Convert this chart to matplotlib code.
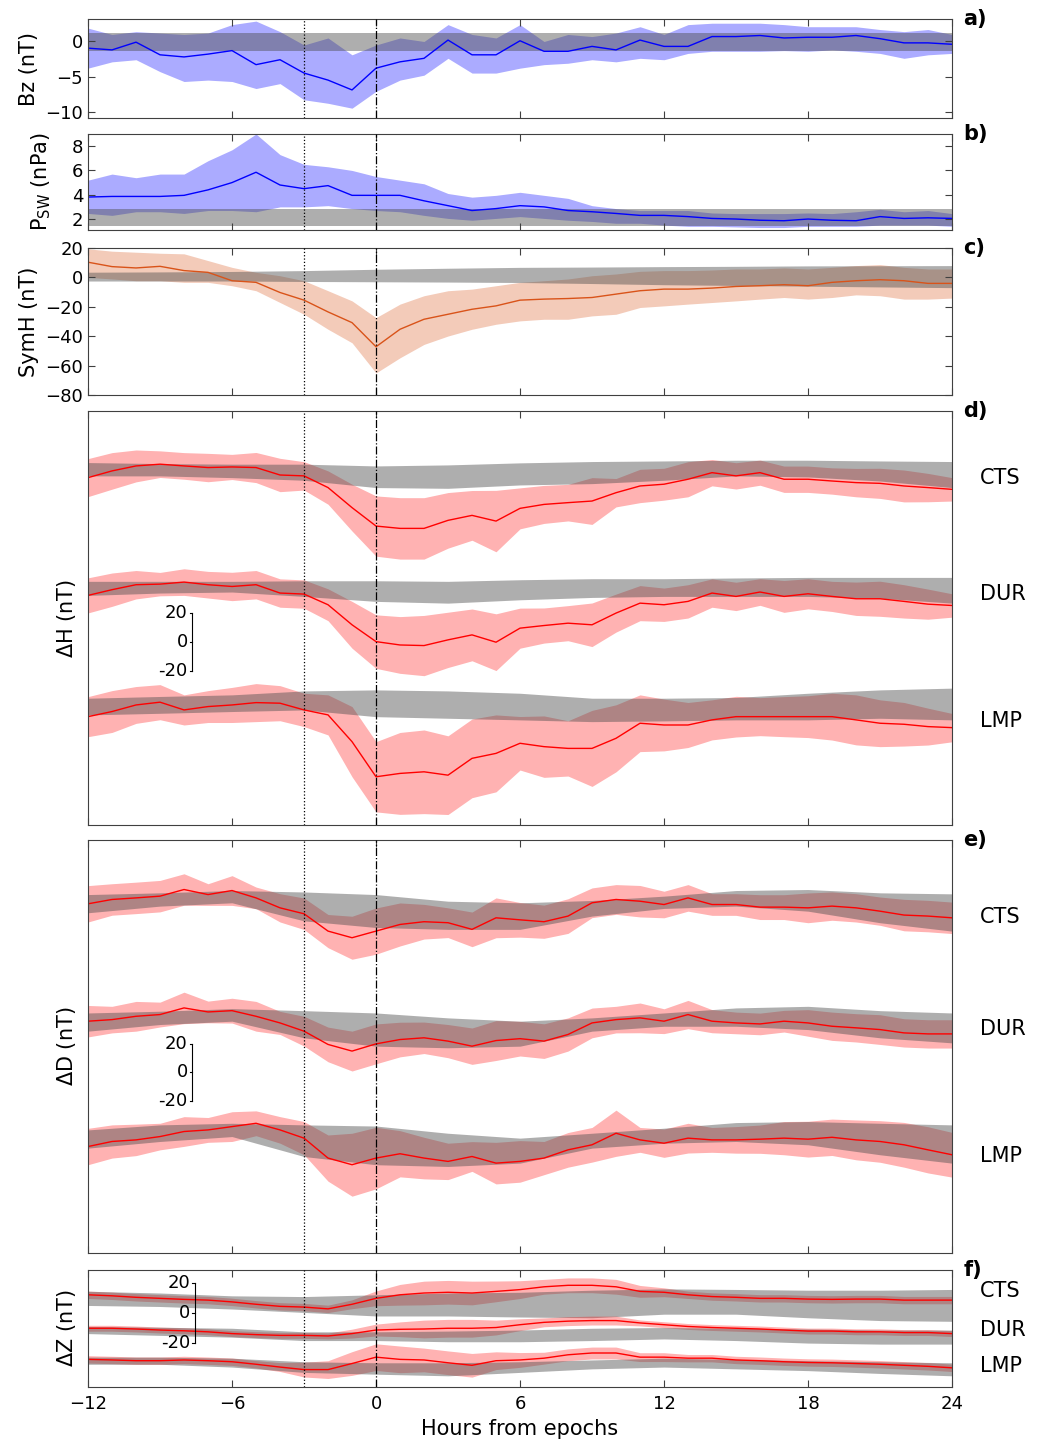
import numpy as np
import matplotlib.pyplot as plt

# time axis (hours from epoch); quiet-time bands are sampled every 3 h
hours = np.arange(-12, 25)
hours_q = np.arange(-12, 25, 3)

# a) IMF Bz (nT)
bz_mean = [-0.95, -1.2, -0.1, -1.9, -2.2, -1.8, -1.3, -3.3, -2.6, -4.5, -5.5, -6.9, -3.8,
           -2.9, -2.4, 0.2, -1.9, -1.9, 0.1, -1.4, -1.4, -0.7, -1.2, 0.2, -0.7, -0.7,
           0.7, 0.7, 0.85, 0.5, 0.6, 0.6, 0.85, 0.4, -0.2, -0.2, -0.4]
bz_hi = [1.9, 1.0, 1.4, 1.2, 1.0, 1.2, 2.4, 2.9, 1.4, -0.5, 0.5, -1.9, -0.5,
         0.5, 0.0, 2.4, 1.0, 0.5, 2.4, 0.0, 1.0, 0.7, 1.2, 2.1, 1.0, 2.4,
         2.6, 2.6, 2.6, 2.4, 2.1, 2.1, 2.1, 1.7, 1.4, 1.7, 1.0]
bz_lo = [-3.8, -2.9, -2.6, -4.3, -5.7, -5.5, -5.7, -6.7, -6.0, -8.3, -8.8, -9.5, -7.1,
         -5.5, -4.8, -2.4, -4.5, -4.5, -3.8, -3.3, -3.1, -2.6, -2.9, -2.4, -2.6, -1.7,
         -1.4, -1.4, -1.4, -1.3, -1.4, -1.2, -1.4, -1.7, -2.4, -1.9, -1.7]
bz_quiet = (-1.4, 1.2)

# b) solar wind dynamic pressure (nPa)
psw_mean = [3.81, 3.86, 3.86, 3.86, 3.95, 4.4, 5.0, 5.85, 4.8, 4.5, 4.75, 3.95, 3.95,
            3.95, 3.5, 3.1, 2.7, 2.86, 3.1, 3.0, 2.7, 2.6, 2.46, 2.3, 2.3, 2.2,
            2.05, 2.0, 1.9, 1.86, 2.0, 1.9, 1.86, 2.2, 2.05, 2.1, 2.05]
psw_hi = [5.2, 5.7, 5.4, 5.7, 5.7, 6.8, 7.7, 9.0, 7.3, 6.5, 6.3, 6.0, 5.5,
          5.2, 4.9, 4.1, 3.8, 3.95, 4.2, 3.95, 3.7, 3.1, 2.86, 2.7, 2.7, 2.7,
          2.5, 2.45, 2.45, 2.45, 2.5, 2.45, 2.6, 2.8, 2.6, 2.7, 2.45]
psw_lo = [2.46, 2.3, 2.6, 2.6, 2.46, 2.7, 2.7, 2.6, 3.0, 3.0, 3.1, 2.86, 2.7,
          2.6, 2.3, 2.05, 1.9, 2.05, 2.2, 2.05, 1.9, 1.8, 1.65, 1.65, 1.5, 1.4,
          1.4, 1.35, 1.3, 1.3, 1.4, 1.4, 1.4, 1.5, 1.5, 1.5, 1.4]
psw_quiet = (1.4, 2.8)

# c) SymH (nT)
symh_mean = [10.3, 7.3, 6.4, 7.5, 4.6, 3.4, -2.3, -3.4, -10.3, -15.5, -23.5, -30.8, -47.2,
             -35.3, -28.5, -25.1, -21.7, -19.4, -15.5, -14.8, -14.4, -13.7, -11.4, -9.1, -8.0, -8.0,
             -7.3, -6.2, -5.7, -5.0, -5.7, -3.4, -2.3, -1.6, -2.3, -4.1, -4.1]
symh_hi = [19.4, 17.8, 17.1, 16.4, 16.0, 11.4, 6.8, 3.4, 1.1, -2.3, -9.1, -16.0, -27.4,
           -18.2, -12.5, -9.1, -8.0, -5.7, -3.4, -2.3, -1.1, 1.1, 2.3, 4.1, 4.6, 4.6,
           5.0, 5.7, 5.7, 6.4, 5.7, 6.8, 8.0, 8.7, 6.8, 5.7, 5.7]
symh_lo = [0.0, -1.1, -2.3, -2.3, -3.4, -3.4, -5.7, -9.1, -17.1, -25.1, -35.3, -44.5, -65.0,
           -54.7, -45.6, -39.9, -35.3, -31.9, -29.6, -28.5, -28.5, -26.2, -25.1, -20.5, -19.4, -18.2,
           -17.1, -16.0, -14.8, -13.7, -14.8, -13.7, -11.9, -12.5, -14.8, -14.8, -14.1]
symh_q_hi = [3.5, 3.7, 4.0, 4.6, 5.5, 6.2, 6.8, 7.0, 7.3, 7.5, 7.8, 7.9, 8.0]
symh_q_lo = [-2.5, -2.5, -2.5, -2.8, -3.0, -3.2, -3.5, -4.2, -5.0, -5.5, -6.0, -6.5, -7.0]

stations = ["CTS", "DUR", "LMP"]

# d) Delta H (nT), relative to each station's baseline
dh_mean = [
    [-5.5, -0.9, 2.5, 3.7, 2.5, 1.4, 1.8, 1.4, -3.7, -4.3, -12.3, -26.0, -38.6,
     -40.2, -40.2, -34.7, -31.3, -35.2, -26.5, -23.8, -22.6, -21.5, -15.8, -11.2, -10.0, -6.6,
     -2.1, -4.3, -2.1, -6.6, -6.6, -7.8, -8.9, -9.4, -11.2, -12.3, -13.5],
    [-5.0, -1.1, 2.3, 2.7, 4.1, 2.3, 1.1, 2.3, -3.4, -4.1, -11.4, -25.1, -36.6,
     -38.9, -39.3, -35.4, -32.0, -37.0, -27.4, -25.6, -24.0, -25.1, -17.1, -10.3, -11.4, -9.1,
     -3.4, -5.7, -2.7, -5.7, -3.9, -5.7, -7.3, -7.3, -9.1, -11.0, -11.9],
    [-6.9, -3.4, 1.1, 3.0, -2.3, 0.0, 1.1, 2.7, 2.3, -2.3, -5.7, -24.0, -48.0,
     -45.7, -44.6, -46.9, -35.4, -32.0, -25.1, -27.4, -28.6, -28.6, -21.7, -11.4, -12.6, -12.6,
     -9.1, -6.9, -6.9, -6.9, -6.9, -6.9, -9.1, -11.4, -12.1, -13.7, -14.4],
]
dh_sd = [
    [13, 12.5, 10.9, 9.1, 9.1, 9.7, 8.6, 10.3, 11.4, 9.7, 11.4, 16, 20.6,
     21, 21, 19, 17, 21, 14, 13, 12.5, 16, 9.7, 11.4, 10.9, 12,
     9, 9, 8.6, 9, 9, 9, 9.7, 10.3, 10.9, 9.7, 8],
    [12, 11.4, 9.7, 8, 9.1, 9.1, 9.7, 9.7, 9.7, 9.7, 10.9, 16, 18.3,
     19.4, 20.6, 18.9, 17.7, 19.4, 13.7, 12, 12, 14.9, 13, 12, 11.4, 11.4,
     9.7, 9.7, 9.1, 10.9, 10.3, 10.3, 11.4, 12, 11.4, 10.3, 8],
    [13.7, 14.3, 12.6, 12, 10.3, 10.9, 12, 13, 12, 11.4, 13.7, 24, 24,
     28, 28.6, 26.9, 26.9, 26.3, 18.3, 21, 18.9, 26, 22.9, 19.4, 17.7, 15.4,
     13.7, 13.9, 13, 13.7, 14.3, 16, 17.1, 16, 14.9, 12.6, 9.7],
]
dh_q_hi = [
    [4.8, 4.1, 3.7, 3.7, 2.5, 3.2, 4.6, 5.5, 5.9, 6.4, 6.4, 5.9, 5.5],
    [4.6, 4.6, 4.6, 5.0, 5.0, 4.6, 5.7, 6.4, 6.4, 6.9, 7.3, 7.3, 7.3],
    [5.7, 6.9, 8.0, 10.7, 11.4, 10.7, 9.1, 5.7, 5.7, 6.2, 9.1, 11.4, 12.6],
]
dh_q_lo = [
    [-4.3, -4.3, -5.5, -7.3, -12.3, -12.8, -10.5, -9.6, -7.3, -4.3, -5.0, -7.8, -12.3],
    [-5.0, -3.4, -2.7, -5.7, -9.1, -10.3, -8.0, -6.4, -5.7, -5.7, -5.7, -6.9, -10.3],
    [-5.7, -4.6, -3.4, -2.3, -6.9, -8.0, -9.1, -10.3, -9.8, -9.1, -9.1, -8.0, -9.1],
]
dh_offset = [118, 37, -44]

# e) Delta D (nT)
dd_mean = [
    [-0.2, 2.8, 3.9, 5.1, 9.7, 6.2, 9.0, 3.9, -3.0, -7.1, -19.1, -23.7, -19.1,
     -14.5, -12.6, -13.3, -17.9, -9.9, -11.3, -12.6, -8.7, 0.5, 2.8, 1.6, -0.7, 3.9,
     -0.7, -0.7, -2.5, -2.5, -3.0, -1.8, -3.0, -5.3, -8.0, -8.7, -9.9],
    [0.5, 1.6, 3.9, 5.1, 9.7, 6.9, 7.8, 3.9, -0.7, -6.4, -15.6, -20.2, -15.2,
     -12.2, -11.0, -13.3, -16.8, -12.9, -11.6, -13.3, -8.7, -0.7, 1.6, 2.8, 0.5, 5.1,
     0.5, -0.7, -1.4, 0.5, -0.7, -3.0, -4.1, -5.3, -7.6, -8.3, -8.3],
    [-5.3, -1.8, -0.7, 1.6, 5.1, 6.2, 8.5, 10.8, 6.2, 0.5, -13.3, -17.9, -13.3,
     -10.3, -13.3, -15.6, -12.2, -16.8, -15.6, -13.3, -7.6, -4.1, 3.9, -0.7, -3.0, 0.5,
     -0.7, -0.7, -0.2, 0.5, -0.2, 1.1, -0.7, -1.8, -4.1, -7.6, -11.0],
]
dd_sd = [
    [12.6, 10.9, 10.9, 10.9, 10.9, 7.5, 10.3, 7.5, 9.8, 10.9, 11.5, 14.9, 16,
     14.9, 12, 10.3, 12, 13.8, 12, 11.5, 12, 10.3, 10.3, 10.9, 9.2, 9.2,
     7.5, 7.5, 8.6, 8.6, 10.3, 9.8, 9.8, 9.8, 10.9, 10.9, 10.9],
    [10.9, 9.2, 10.3, 8.6, 10.9, 7.5, 8.6, 10.3, 8.0, 10.3, 12.0, 13.8, 13.8,
     12.0, 10.9, 11.5, 12.6, 13.8, 12.0, 12.0, 11.5, 10.3, 9.2, 10.3, 8.6, 9.8,
     8.0, 7.5, 7.5, 7.5, 9.2, 9.8, 9.8, 10.3, 9.8, 9.8, 9.8],
    [12.6, 11.5, 10.9, 9.2, 10.3, 8.6, 10.3, 8.6, 9.2, 11.5, 16.0, 21.8, 21.3,
     16.0, 14.4, 12.6, 10.3, 14.4, 14.4, 11.5, 12.0, 12.0, 16.0, 8.6, 9.8, 10.3,
     8.6, 9.2, 9.8, 11.5, 12.4, 12.6, 13.8, 14.4, 15.5, 16.0, 15.5],
]
dd_q_hi = [
    [6.2, 7.4, 9.0, 8.0, 6.2, 1.6, 0.5, 2.1, 5.1, 9.0, 9.7, 7.4, 6.7],
    [6.2, 7.4, 9.2, 7.8, 6.2, 2.8, 0.5, 2.8, 6.2, 9.7, 10.8, 7.8, 6.2],
    [6.2, 9.7, 10.8, 9.7, 8.9, 3.9, 0.5, 3.9, 7.4, 11.3, 12.0, 10.8, 9.7],
]
dd_q_lo = [
    [-6.4, -1.8, 0.5, -12.0, -16.6, -17.9, -17.9, -8.7, -3.4, -1.8, -5.3, -13.3, -19.1],
    [-6.4, -1.8, 0.5, -11.0, -16.8, -17.9, -16.8, -6.4, -3.0, -3.0, -5.3, -11.0, -14.5],
    [-6.4, -1.8, 1.6, -12.2, -17.9, -19.1, -16.8, -6.4, -3.0, -1.8, -4.1, -11.0, -16.8],
]
dd_offset = [117, 35, -46]

# f) Delta Z (nT)
dz_mean = [
    [2.3, 1.6, 0.6, -0.1, -0.8, -1.3, -2.5, -4.1, -5.5, -6.0, -7.2, -4.1, -0.1,
     2.3, 3.5, 4.0, 3.5, 4.6, 5.8, 7.7, 8.7, 8.7, 7.7, 4.6, 4.0, 2.3,
     1.1, 0.6, -0.1, -0.1, -0.6, -0.8, -0.6, -0.6, -1.3, -1.3, -1.3],
    [-0.3, -0.3, -0.8, -1.5, -2.0, -2.7, -3.9, -4.6, -5.1, -5.1, -5.5, -3.9, -1.5,
     -1.0, -0.8, -0.3, -0.3, 0.2, 2.1, 3.7, 4.5, 4.9, 4.9, 3.3, 2.1, 0.9,
     0.2, -0.3, -0.8, -1.5, -2.2, -2.2, -2.7, -2.7, -3.2, -3.2, -3.9],
    [-0.3, -0.7, -1.2, -1.2, -0.7, -1.2, -1.9, -3.6, -5.5, -7.2, -7.2, -3.1, 1.2,
     -0.3, -0.7, -2.6, -4.3, -1.2, -0.7, 0.5, 2.8, 4.0, 4.0, 1.2, 1.2, 0.5,
     0.5, -0.7, -1.2, -1.9, -2.4, -2.6, -3.1, -3.6, -4.3, -5.0, -6.0],
]
dz_sd = [
    [2.5, 2.5, 2.5, 2.5, 2.5, 2.5, 2.5, 2.5, 2.5, 2.5, 2.5, 3, 5,
     7, 8, 8, 8, 7, 6, 5, 5, 5, 5, 4, 3, 2.5,
     2.5, 2.5, 2.5, 2.5, 2.5, 2.5, 2.5, 2.5, 2.5, 2.5, 2.5],
    [2, 2, 2, 2, 2, 2, 2, 2, 2, 2, 2, 3, 4,
     5, 6, 6, 6, 5, 4, 3, 3, 3, 3, 2, 2, 2,
     2, 2, 2, 2, 2, 2, 2, 2, 2, 2, 2],
    [2.5, 2.5, 2.5, 2.5, 2.5, 2.5, 2.5, 2.5, 3, 5, 6, 8, 9,
     9, 8, 8, 8, 6, 5, 4, 4, 4, 4, 3, 3, 2.5,
     2.5, 2.5, 2.5, 2.5, 2.5, 2.5, 2.5, 2.5, 2.5, 2.5, 2.5],
]
dz_q_hi = [
    [4.7, 3.5, 1.6, 1.1, 2.3, 3.5, 4.0, 5.4, 6.3, 5.9, 5.4, 5.4, 5.9],
    [0.9, 0.4, -0.3, -2.7, -2.7, -2.2, -1.5, -0.3, 0.2, -0.3, -0.8, -1.5, -1.5],
    [1.2, 1.2, 0.5, -1.9, -2.6, -2.6, -1.9, -0.7, 0.5, -0.3, -1.2, -1.9, -2.6],
]
dz_q_lo = [
    [-4.9, -5.6, -7.3, -9.6, -12.0, -12.0, -12.7, -13.2, -10.8, -10.8, -13.2, -15.1, -15.6],
    [-3.9, -5.1, -6.3, -8.6, -8.6, -9.4, -9.4, -8.6, -7.5, -8.6, -10.3, -11.0, -11.0],
    [-3.6, -3.6, -5.5, -9.1, -10.3, -11.4, -9.1, -6.7, -5.5, -6.7, -7.9, -9.8, -11.4],
]
dz_offset = [10, -10, -31]

# colours
GREY = "0.3"
GREY_ALPHA = 0.45
FRAME = "0.25"

fig = plt.figure(figsize=(10.48, 14.5), dpi=100)
L, W = 0.084, 0.8244
ax_a = fig.add_axes([L, 0.9186, W, 0.0683])
ax_b = fig.add_axes([L, 0.8414, W, 0.0662])
ax_c = fig.add_axes([L, 0.7276, W, 0.1014])
ax_d = fig.add_axes([L, 0.4310, W, 0.2855])
ax_e = fig.add_axes([L, 0.1359, W, 0.2848])
ax_f = fig.add_axes([L, 0.0434, W, 0.0807])
axes = [ax_a, ax_b, ax_c, ax_d, ax_e, ax_f]


def style(ax, letter):
    ax.set_xlim(-12, 24)
    ax.set_xticks(range(-12, 25, 6))
    ax.tick_params(direction="in", top=True, right=True, length=5,
                   labelsize=13, color=FRAME)
    for sp in ax.spines.values():
        sp.set_color(FRAME)
    ax.axvline(-3, color="k", ls=":", lw=0.9, zorder=10)
    ax.axvline(0, color="k", ls="-.", lw=0.9, zorder=10)
    ax.text(1.013, 1.0, letter, transform=ax.transAxes, ha="left", va="center",
            fontsize=15, fontweight="bold")
    if ax is not ax_f:
        ax.set_xticklabels([])


def band_panel(ax, mean, lo, hi, col, alpha):
    ax.fill_between(hours, lo, hi, color=col, alpha=alpha, lw=0)
    ax.plot(hours, mean, color=col, lw=1)


def station_panel(ax, means, sds, q_hi, q_lo, offsets, label_y):
    for m, s, qh, ql, off, ly, name in zip(means, sds, q_hi, q_lo, offsets, label_y, stations):
        m = np.array(m) + off
        s = np.array(s)
        ax.fill_between(hours, m - s, m + s, color="red", alpha=0.3, lw=0)
        ax.plot(hours, m, color="red", lw=1)
        ax.fill_between(hours_q, np.array(ql) + off, np.array(qh) + off,
                        color=GREY, alpha=GREY_ALPHA, lw=0)
        ax.text(25.15, ly, name, fontsize=15, ha="left", va="center", clip_on=False)
    ax.set_yticks([])


def scale_bar(ax, x):
    ax.plot([x, x], [-20, 20], color="k", lw=0.8)
    for v in (-20, 0, 20):
        ax.plot([x - 0.12, x], [v, v], color="k", lw=0.8)
        ax.text(x - 0.2, v, str(v), ha="right", va="center", fontsize=13)


# a)
band_panel(ax_a, bz_mean, bz_lo, bz_hi, "blue", 0.33)
ax_a.axhspan(bz_quiet[0], bz_quiet[1], color=GREY, alpha=GREY_ALPHA, lw=0)
ax_a.set_ylim(-10.9, 3.2)
ax_a.set_yticks([-10, -5, 0])
ax_a.set_ylabel("Bz (nT)", fontsize=15)
ax_a.yaxis.set_label_coords(-0.057, 0.5)

# b)
band_panel(ax_b, psw_mean, psw_lo, psw_hi, "blue", 0.33)
ax_b.axhspan(psw_quiet[0], psw_quiet[1], color=GREY, alpha=GREY_ALPHA, lw=0)
ax_b.set_ylim(1.1, 9.0)
ax_b.set_yticks([2, 4, 6, 8])
ax_b.set_ylabel(r"P$_{\rm SW}$ (nPa)", fontsize=15)
ax_b.yaxis.set_label_coords(-0.04, 0.5)

# c)
band_panel(ax_c, symh_mean, symh_lo, symh_hi, "#d95319", 0.3)
ax_c.fill_between(hours_q, symh_q_lo, symh_q_hi, color=GREY, alpha=GREY_ALPHA, lw=0)
ax_c.set_ylim(-80, 20)
ax_c.set_yticks(range(-80, 21, 20))
ax_c.set_ylabel("SymH (nT)", fontsize=15)
ax_c.yaxis.set_label_coords(-0.057, 0.5)

# d)
station_panel(ax_d, dh_mean, dh_sd, dh_q_hi, dh_q_lo, dh_offset, [112, 33, -54])
scale_bar(ax_d, -7.65)
ax_d.set_ylim(-125, 158)
ax_d.set_ylabel(r"$\Delta$H (nT)", fontsize=15)
ax_d.yaxis.set_label_coords(-0.012, 0.5)

# e)
station_panel(ax_e, dd_mean, dd_sd, dd_q_hi, dd_q_lo, dd_offset, [108, 30, -58])
scale_bar(ax_e, -7.65)
ax_e.set_ylim(-125, 161)
ax_e.set_ylabel(r"$\Delta$D (nT)", fontsize=15)
ax_e.yaxis.set_label_coords(-0.012, 0.5)

# f)
station_panel(ax_f, dz_mean, dz_sd, dz_q_hi, dz_q_lo, dz_offset, [15, -11.5, -36])
scale_bar(ax_f, -7.55)
ax_f.set_ylim(-50, 29)
ax_f.set_ylabel(r"$\Delta$Z (nT)", fontsize=15)
ax_f.yaxis.set_label_coords(-0.012, 0.5)
ax_f.set_xlabel("Hours from epochs", fontsize=15)
ax_f.tick_params(axis="x", labelsize=14, pad=6)

for ax, letter in zip(axes, ["a)", "b)", "c)", "d)", "e)", "f)"]):
    style(ax, letter)

fig.savefig("out.png", dpi=100)
